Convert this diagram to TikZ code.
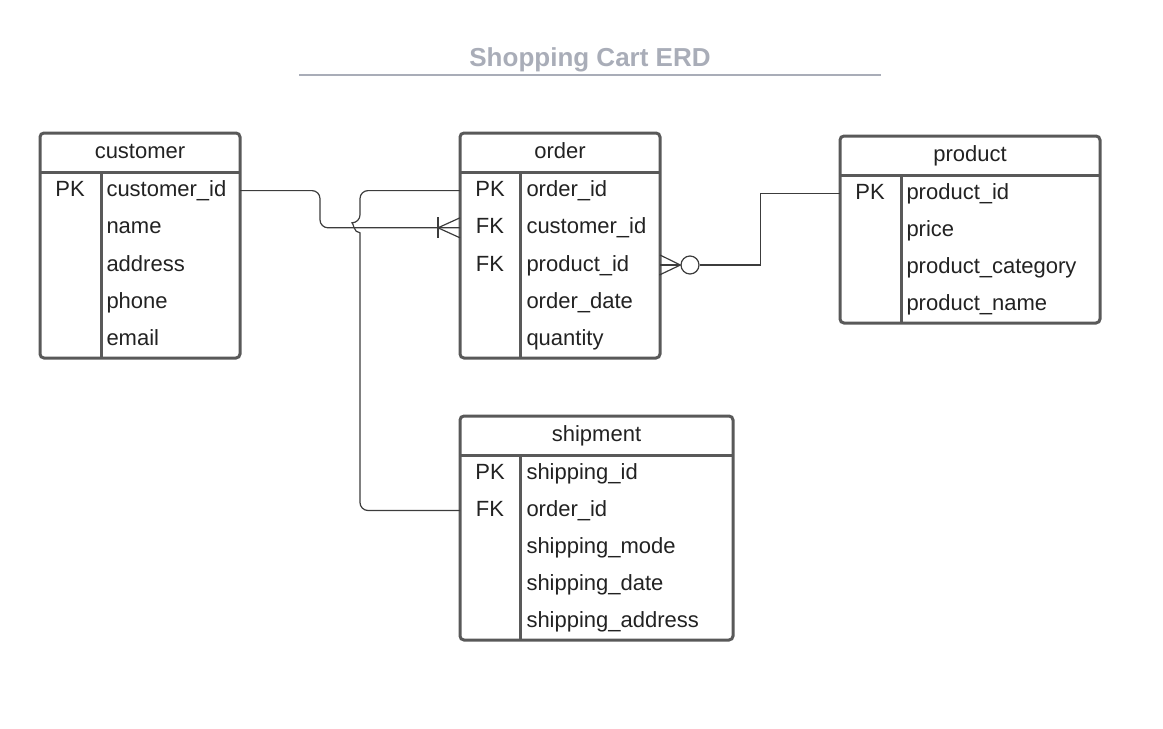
\documentclass[tikz,border=0pt]{standalone}
\usepackage{fontspec}
\setmainfont{Liberation Sans}

\definecolor{boxline}{RGB}{89,89,89}
\definecolor{titlegray}{RGB}{169,173,184}
\definecolor{linkline}{RGB}{60,60,60}
\definecolor{fieldtext}{RGB}{34,34,34}

\tikzset{every picture/.style={line width=0.75pt}}
\tikzset{
  entity/.style={draw=boxline, line width=2.25pt, rounded corners=3pt, inner sep=0pt, outer sep=0pt, anchor=north west},
  sepline/.style={draw=boxline, line width=2.25pt},
  field/.style={anchor=west, inner sep=0pt, text height=12pt, text depth=3pt, text=fieldtext, font=\fontsize{16.5}{18}\selectfont},
  keyname/.style={field, anchor=center},
  tablename/.style={keyname},
  link/.style={draw=linkline, line width=0.9pt},
  zeroring/.style={circle, draw=linkline, line width=0.9pt, fill=white, inner sep=0pt, minimum size=13.5pt},
}

\begin{document}
\begin{tikzpicture}[x=0.75pt,y=0.75pt,yscale=-1,xscale=1]
    \useasboundingbox (0,0) rectangle (1163,728);

    % Title
    \node[inner sep=0pt, text height=16pt, text depth=2.5pt, text=titlegray, font=\fontsize{19.5}{22}\selectfont\bfseries] (title) at (590,57) {Shopping Cart ERD};
    \draw[draw=titlegray, line width=1.5pt] (299,75) -- (881,75);

    %Shape: Table customer
    \node[entity, minimum width=150pt, minimum height=168.75pt] (customer) at (40,133) {};
    \draw[sepline] (40,172) -- (240,172);
    \draw[sepline] (101,172) -- (101,358);
    \node[tablename] (customer-title) at (140,152.5) {customer};
    \node[keyname] (cust-pk) at (70,190.6) {PK};
    \node[field] (cust-id) at (106,190.6) {customer\_id};
    \node[field] (cust-name) at (106,227.8) {name};
    \node[field] (cust-addr) at (106,265) {address};
    \node[field] (cust-phone) at (106,302.2) {phone};
    \node[field] (cust-mail) at (106,339.4) {email};

    %Shape: Table order
    \node[entity, minimum width=150pt, minimum height=168.75pt] (order) at (460,133) {};
    \draw[sepline] (460,172) -- (660,172);
    \draw[sepline] (520,172) -- (520,358);
    \node[tablename] (order-title) at (560,152.5) {order};
    \node[keyname] (ord-pk) at (490,190.6) {PK};
    \node[keyname] (ord-fk1) at (490,227.8) {FK};
    \node[keyname] (ord-fk2) at (490,265) {FK};
    \node[field] (ord-id) at (526,190.6) {order\_id};
    \node[field] (ord-cust) at (526,227.8) {customer\_id};
    \node[field] (ord-prod) at (526,265) {product\_id};
    \node[field] (ord-date) at (526,302.2) {order\_date};
    \node[field] (ord-qty) at (526,339.4) {quantity};

    %Shape: Table product
    \node[entity, minimum width=195pt, minimum height=140.25pt] (product) at (840,136) {};
    \draw[sepline] (840,175) -- (1100,175);
    \draw[sepline] (901,175) -- (901,323);
    \node[tablename] (product-title) at (970,155.5) {product};
    \node[keyname] (prod-pk) at (870,193.5) {PK};
    \node[field] (prod-id) at (906,193.5) {product\_id};
    \node[field] (prod-price) at (906,230.5) {price};
    \node[field] (prod-cat) at (906,267.5) {product\_category};
    \node[field] (prod-name) at (906,304.5) {product\_name};

    %Shape: Table shipment
    \node[entity, minimum width=204.75pt, minimum height=168pt] (shipment) at (460,416) {};
    \draw[sepline] (460,455) -- (733,455);
    \draw[sepline] (520,455) -- (520,640);
    \node[tablename] (shipment-title) at (596.5,435.5) {shipment};
    \node[keyname] (ship-pk) at (490,473.5) {PK};
    \node[keyname] (ship-fk) at (490,510.5) {FK};
    \node[field] (ship-id) at (526,473.5) {shipping\_id};
    \node[field] (ship-ord) at (526,510.5) {order\_id};
    \node[field] (ship-mode) at (526,547.5) {shipping\_mode};
    \node[field] (ship-date) at (526,584.5) {shipping\_date};
    \node[field] (ship-addr) at (526,621.5) {shipping\_address};

    %Connector customer -> order (one or many)
    \draw[link, rounded corners=6pt] (customer.east |- cust-id) -- (320,190.6) -- (320,227.8) -- (order.west |- ord-cust);
    \draw[link] (order.west |- ord-cust) ++(-22,-10.5) -- ++(0,21);
    \draw[link] (order.west |- ord-cust) ++(0,-10) -- ++(-22,10) -- ++(22,10);

    %Connector order -> shipment (with hop)
    \draw[link, rounded corners=6pt] (order.west |- ord-id) -- (360,190.6) -- (360,222.8)
        [sharp corners] .. controls (353.5,222.8) and (353.5,232.8) .. (360,232.8)
        [rounded corners=6pt] -- (360,510.5) -- (shipment.west |- ship-ord);

    %Connector order -> product (zero or many)
    \node[zeroring] (ord-zero) at (690,265) {};
    \draw[link] (order.east |- ord-prod) ++(0,-10) -- (ord-zero.west) -- ++(-21,10);
    \draw[link] (order.east |- ord-prod) -- (ord-zero.west);
    \draw[link] (ord-zero.east) -- ++(61,0) |- (product.west |- prod-id);
\end{tikzpicture}
\end{document}
